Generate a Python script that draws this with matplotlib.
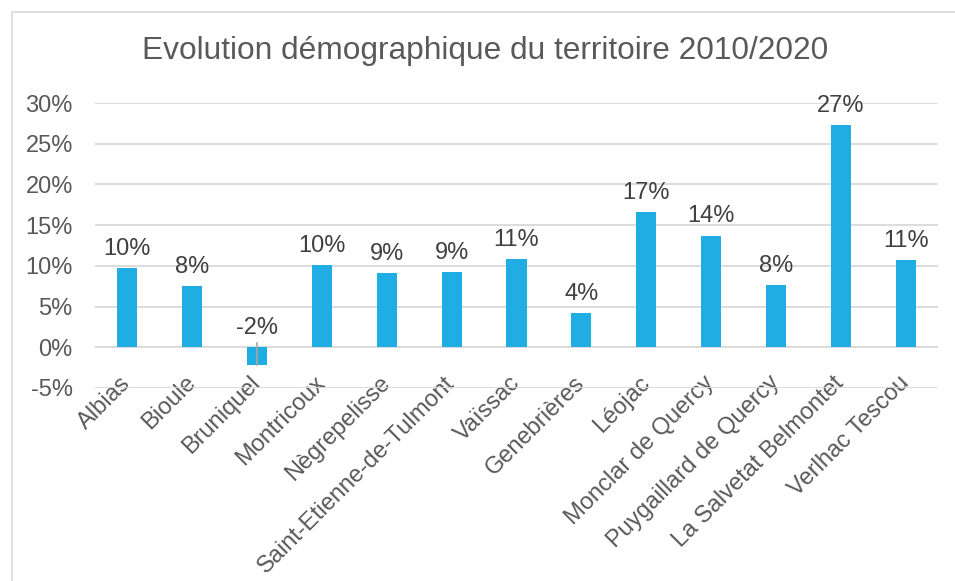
import matplotlib
matplotlib.use("Agg")
import matplotlib.pyplot as plt
from matplotlib.patches import Rectangle
from matplotlib.ticker import FuncFormatter, MultipleLocator

communes = ["Albias", "Bioule", "Bruniquel", "Montricoux", "Nègrepelisse",
            "Saint-Etienne-de-Tulmont", "Vaïssac", "Genebrières", "Léojac",
            "Monclar de Quercy", "Puygaillard de Quercy", "La Salvetat Belmontet",
            "Verlhac Tescou"]
evolution = [9.7, 7.5, -2.2, 10.1, 9.1, 9.2, 10.8, 4.2, 16.6, 13.7, 7.6, 27.3, 10.7]
labels = ["10%", "8%", "-2%", "10%", "9%", "9%", "11%", "4%", "17%", "14%", "8%", "27%", "11%"]

plt.rcParams['font.family'] = ['Liberation Sans', 'DejaVu Sans']
txt = '#595959'
fig = plt.figure(figsize=(9.55, 5.81), dpi=100)
fig.patches.append(Rectangle((12/955, -0.01), 1.0, 1 - 12/581 + 0.01, transform=fig.transFigure,
                             fill=False, edgecolor='#D9D9D9', lw=1.2))
ax = fig.add_axes([95/955, 1 - 388/581, (938 - 95)/955, (388 - 103)/581])
x = list(range(len(communes)))
ax.bar(x, evolution, width=0.31, color='#1FADE4', zorder=3)
for xi, v, lab in zip(x, evolution, labels):
    ax.annotate(lab, (xi, max(v, 0)), xytext=(0, 6), textcoords='offset points',
                ha='center', va='bottom', fontsize=17, color='#404040')
# small grey mark on Bruniquel bar
ax.plot([2, 2], [-2.2, 0.5], color='#A6A6A6', lw=1.2, zorder=4)

ax.set_xlim(-0.5, len(communes) - 0.5)
ax.set_ylim(-5, 30)
ax.yaxis.set_major_locator(MultipleLocator(5))
ax.yaxis.set_major_formatter(FuncFormatter(lambda v, p: f"{v:.0f}%"))
ax.grid(axis='y', color='#D9D9D9', lw=1.3, zorder=0)
for s in ax.spines.values():
    s.set_visible(False)
ax.tick_params(axis='both', length=0, labelsize=17, colors=txt)
ax.tick_params(axis='y', pad=16)
ax.set_xticks(x)
ax.set_xticklabels(communes, rotation=45, ha='right', va='center', rotation_mode='anchor')
ax.tick_params(axis='x', pad=-6)
fig.text(485/955, 1 - 51/581, "Evolution démographique du territoire 2010/2020",
         ha='center', va='center', fontsize=22.8, color=txt)
fig.savefig("out.png", dpi=100)
